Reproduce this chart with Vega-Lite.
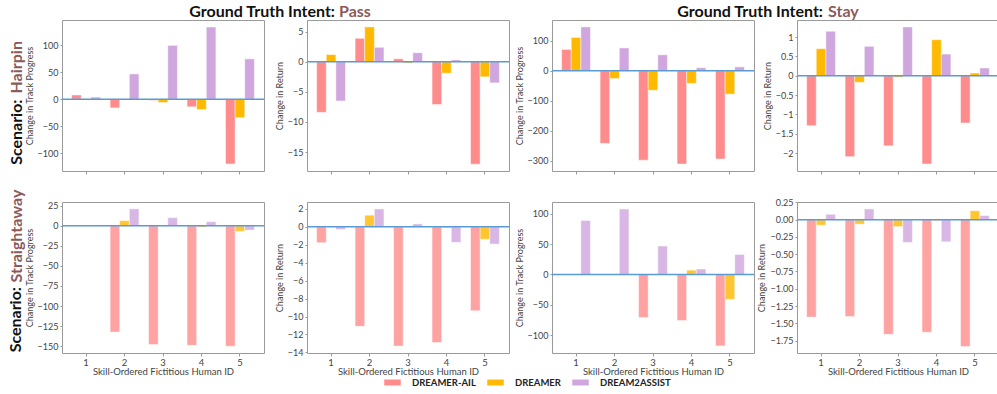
{
"$schema": "https://vega.github.io/schema/vega-lite/v6.json",
"padding": {"left": 7, "top": 3, "right": 0, "bottom": 0},
"background": "white",
"datasets": {"d": [
{"scenario":"Hairpin","intent":"Pass","metric":"Track","id":1,"method":"Dreamer-AIL","value":8},
{"scenario":"Hairpin","intent":"Pass","metric":"Track","id":1,"method":"Dreamer","value":1},
{"scenario":"Hairpin","intent":"Pass","metric":"Track","id":1,"method":"Dream2Assist","value":4},
{"scenario":"Hairpin","intent":"Pass","metric":"Track","id":2,"method":"Dreamer-AIL","value":-16},
{"scenario":"Hairpin","intent":"Pass","metric":"Track","id":2,"method":"Dreamer","value":0},
{"scenario":"Hairpin","intent":"Pass","metric":"Track","id":2,"method":"Dream2Assist","value":47},
{"scenario":"Hairpin","intent":"Pass","metric":"Track","id":3,"method":"Dreamer-AIL","value":-2},
{"scenario":"Hairpin","intent":"Pass","metric":"Track","id":3,"method":"Dreamer","value":-6},
{"scenario":"Hairpin","intent":"Pass","metric":"Track","id":3,"method":"Dream2Assist","value":100},
{"scenario":"Hairpin","intent":"Pass","metric":"Track","id":4,"method":"Dreamer-AIL","value":-14},
{"scenario":"Hairpin","intent":"Pass","metric":"Track","id":4,"method":"Dreamer","value":-19},
{"scenario":"Hairpin","intent":"Pass","metric":"Track","id":4,"method":"Dream2Assist","value":134},
{"scenario":"Hairpin","intent":"Pass","metric":"Track","id":5,"method":"Dreamer-AIL","value":-120},
{"scenario":"Hairpin","intent":"Pass","metric":"Track","id":5,"method":"Dreamer","value":-34},
{"scenario":"Hairpin","intent":"Pass","metric":"Track","id":5,"method":"Dream2Assist","value":75},
{"scenario":"Hairpin","intent":"Pass","metric":"Return","id":1,"method":"Dreamer-AIL","value":-8.4},
{"scenario":"Hairpin","intent":"Pass","metric":"Return","id":1,"method":"Dreamer","value":1.2},
{"scenario":"Hairpin","intent":"Pass","metric":"Return","id":1,"method":"Dream2Assist","value":-6.5},
{"scenario":"Hairpin","intent":"Pass","metric":"Return","id":2,"method":"Dreamer-AIL","value":3.9},
{"scenario":"Hairpin","intent":"Pass","metric":"Return","id":2,"method":"Dreamer","value":5.8},
{"scenario":"Hairpin","intent":"Pass","metric":"Return","id":2,"method":"Dream2Assist","value":2.4},
{"scenario":"Hairpin","intent":"Pass","metric":"Return","id":3,"method":"Dreamer-AIL","value":0.5},
{"scenario":"Hairpin","intent":"Pass","metric":"Return","id":3,"method":"Dreamer","value":-0.2},
{"scenario":"Hairpin","intent":"Pass","metric":"Return","id":3,"method":"Dream2Assist","value":1.5},
{"scenario":"Hairpin","intent":"Pass","metric":"Return","id":4,"method":"Dreamer-AIL","value":-7.1},
{"scenario":"Hairpin","intent":"Pass","metric":"Return","id":4,"method":"Dreamer","value":-1.9},
{"scenario":"Hairpin","intent":"Pass","metric":"Return","id":4,"method":"Dream2Assist","value":0.3},
{"scenario":"Hairpin","intent":"Pass","metric":"Return","id":5,"method":"Dreamer-AIL","value":-17.0},
{"scenario":"Hairpin","intent":"Pass","metric":"Return","id":5,"method":"Dreamer","value":-2.5},
{"scenario":"Hairpin","intent":"Pass","metric":"Return","id":5,"method":"Dream2Assist","value":-3.5},
{"scenario":"Hairpin","intent":"Stay","metric":"Track","id":1,"method":"Dreamer-AIL","value":71},
{"scenario":"Hairpin","intent":"Stay","metric":"Track","id":1,"method":"Dreamer","value":111},
{"scenario":"Hairpin","intent":"Stay","metric":"Track","id":1,"method":"Dream2Assist","value":146},
{"scenario":"Hairpin","intent":"Stay","metric":"Track","id":2,"method":"Dreamer-AIL","value":-242},
{"scenario":"Hairpin","intent":"Stay","metric":"Track","id":2,"method":"Dreamer","value":-26},
{"scenario":"Hairpin","intent":"Stay","metric":"Track","id":2,"method":"Dream2Assist","value":76},
{"scenario":"Hairpin","intent":"Stay","metric":"Track","id":3,"method":"Dreamer-AIL","value":-298},
{"scenario":"Hairpin","intent":"Stay","metric":"Track","id":3,"method":"Dreamer","value":-65},
{"scenario":"Hairpin","intent":"Stay","metric":"Track","id":3,"method":"Dream2Assist","value":53},
{"scenario":"Hairpin","intent":"Stay","metric":"Track","id":4,"method":"Dreamer-AIL","value":-311},
{"scenario":"Hairpin","intent":"Stay","metric":"Track","id":4,"method":"Dreamer","value":-42},
{"scenario":"Hairpin","intent":"Stay","metric":"Track","id":4,"method":"Dream2Assist","value":10},
{"scenario":"Hairpin","intent":"Stay","metric":"Track","id":5,"method":"Dreamer-AIL","value":-294},
{"scenario":"Hairpin","intent":"Stay","metric":"Track","id":5,"method":"Dreamer","value":-78},
{"scenario":"Hairpin","intent":"Stay","metric":"Track","id":5,"method":"Dream2Assist","value":13},
{"scenario":"Hairpin","intent":"Stay","metric":"Return","id":1,"method":"Dreamer-AIL","value":-1.29},
{"scenario":"Hairpin","intent":"Stay","metric":"Return","id":1,"method":"Dreamer","value":0.70},
{"scenario":"Hairpin","intent":"Stay","metric":"Return","id":1,"method":"Dream2Assist","value":1.15},
{"scenario":"Hairpin","intent":"Stay","metric":"Return","id":2,"method":"Dreamer-AIL","value":-2.09},
{"scenario":"Hairpin","intent":"Stay","metric":"Return","id":2,"method":"Dreamer","value":-0.17},
{"scenario":"Hairpin","intent":"Stay","metric":"Return","id":2,"method":"Dream2Assist","value":0.76},
{"scenario":"Hairpin","intent":"Stay","metric":"Return","id":3,"method":"Dreamer-AIL","value":-1.81},
{"scenario":"Hairpin","intent":"Stay","metric":"Return","id":3,"method":"Dreamer","value":-0.04},
{"scenario":"Hairpin","intent":"Stay","metric":"Return","id":3,"method":"Dream2Assist","value":1.26},
{"scenario":"Hairpin","intent":"Stay","metric":"Return","id":4,"method":"Dreamer-AIL","value":-2.28},
{"scenario":"Hairpin","intent":"Stay","metric":"Return","id":4,"method":"Dreamer","value":0.93},
{"scenario":"Hairpin","intent":"Stay","metric":"Return","id":4,"method":"Dream2Assist","value":0.56},
{"scenario":"Hairpin","intent":"Stay","metric":"Return","id":5,"method":"Dreamer-AIL","value":-1.22},
{"scenario":"Hairpin","intent":"Stay","metric":"Return","id":5,"method":"Dreamer","value":0.07},
{"scenario":"Hairpin","intent":"Stay","metric":"Return","id":5,"method":"Dream2Assist","value":0.20},
{"scenario":"Straightaway","intent":"Pass","metric":"Track","id":1,"method":"Dreamer-AIL","value":0},
{"scenario":"Straightaway","intent":"Pass","metric":"Track","id":1,"method":"Dreamer","value":0},
{"scenario":"Straightaway","intent":"Pass","metric":"Track","id":1,"method":"Dream2Assist","value":0},
{"scenario":"Straightaway","intent":"Pass","metric":"Track","id":2,"method":"Dreamer-AIL","value":-132.5},
{"scenario":"Straightaway","intent":"Pass","metric":"Track","id":2,"method":"Dreamer","value":6.3},
{"scenario":"Straightaway","intent":"Pass","metric":"Track","id":2,"method":"Dream2Assist","value":21},
{"scenario":"Straightaway","intent":"Pass","metric":"Track","id":3,"method":"Dreamer-AIL","value":-148},
{"scenario":"Straightaway","intent":"Pass","metric":"Track","id":3,"method":"Dreamer","value":0},
{"scenario":"Straightaway","intent":"Pass","metric":"Track","id":3,"method":"Dream2Assist","value":10},
{"scenario":"Straightaway","intent":"Pass","metric":"Track","id":4,"method":"Dreamer-AIL","value":-149},
{"scenario":"Straightaway","intent":"Pass","metric":"Track","id":4,"method":"Dreamer","value":-1.7},
{"scenario":"Straightaway","intent":"Pass","metric":"Track","id":4,"method":"Dream2Assist","value":5},
{"scenario":"Straightaway","intent":"Pass","metric":"Track","id":5,"method":"Dreamer-AIL","value":-150},
{"scenario":"Straightaway","intent":"Pass","metric":"Track","id":5,"method":"Dreamer","value":-7},
{"scenario":"Straightaway","intent":"Pass","metric":"Track","id":5,"method":"Dream2Assist","value":-5.5},
{"scenario":"Straightaway","intent":"Pass","metric":"Return","id":1,"method":"Dreamer-AIL","value":-1.77},
{"scenario":"Straightaway","intent":"Pass","metric":"Return","id":1,"method":"Dreamer","value":0},
{"scenario":"Straightaway","intent":"Pass","metric":"Return","id":1,"method":"Dream2Assist","value":-0.3},
{"scenario":"Straightaway","intent":"Pass","metric":"Return","id":2,"method":"Dreamer-AIL","value":-11.1},
{"scenario":"Straightaway","intent":"Pass","metric":"Return","id":2,"method":"Dreamer","value":1.3},
{"scenario":"Straightaway","intent":"Pass","metric":"Return","id":2,"method":"Dream2Assist","value":2.0},
{"scenario":"Straightaway","intent":"Pass","metric":"Return","id":3,"method":"Dreamer-AIL","value":-13.3},
{"scenario":"Straightaway","intent":"Pass","metric":"Return","id":3,"method":"Dreamer","value":-0.05},
{"scenario":"Straightaway","intent":"Pass","metric":"Return","id":3,"method":"Dream2Assist","value":0.33},
{"scenario":"Straightaway","intent":"Pass","metric":"Return","id":4,"method":"Dreamer-AIL","value":-12.9},
{"scenario":"Straightaway","intent":"Pass","metric":"Return","id":4,"method":"Dreamer","value":-0.1},
{"scenario":"Straightaway","intent":"Pass","metric":"Return","id":4,"method":"Dream2Assist","value":-1.73},
{"scenario":"Straightaway","intent":"Pass","metric":"Return","id":5,"method":"Dreamer-AIL","value":-9.36},
{"scenario":"Straightaway","intent":"Pass","metric":"Return","id":5,"method":"Dreamer","value":-1.39},
{"scenario":"Straightaway","intent":"Pass","metric":"Return","id":5,"method":"Dream2Assist","value":-1.92},
{"scenario":"Straightaway","intent":"Stay","metric":"Track","id":1,"method":"Dreamer-AIL","value":0},
{"scenario":"Straightaway","intent":"Stay","metric":"Track","id":1,"method":"Dreamer","value":0},
{"scenario":"Straightaway","intent":"Stay","metric":"Track","id":1,"method":"Dream2Assist","value":89},
{"scenario":"Straightaway","intent":"Stay","metric":"Track","id":2,"method":"Dreamer-AIL","value":0},
{"scenario":"Straightaway","intent":"Stay","metric":"Track","id":2,"method":"Dreamer","value":0},
{"scenario":"Straightaway","intent":"Stay","metric":"Track","id":2,"method":"Dream2Assist","value":108},
{"scenario":"Straightaway","intent":"Stay","metric":"Track","id":3,"method":"Dreamer-AIL","value":-71},
{"scenario":"Straightaway","intent":"Stay","metric":"Track","id":3,"method":"Dreamer","value":0},
{"scenario":"Straightaway","intent":"Stay","metric":"Track","id":3,"method":"Dream2Assist","value":47},
{"scenario":"Straightaway","intent":"Stay","metric":"Track","id":4,"method":"Dreamer-AIL","value":-76},
{"scenario":"Straightaway","intent":"Stay","metric":"Track","id":4,"method":"Dreamer","value":7.2},
{"scenario":"Straightaway","intent":"Stay","metric":"Track","id":4,"method":"Dream2Assist","value":9},
{"scenario":"Straightaway","intent":"Stay","metric":"Track","id":5,"method":"Dreamer-AIL","value":-118},
{"scenario":"Straightaway","intent":"Stay","metric":"Track","id":5,"method":"Dreamer","value":-41},
{"scenario":"Straightaway","intent":"Stay","metric":"Track","id":5,"method":"Dream2Assist","value":33},
{"scenario":"Straightaway","intent":"Stay","metric":"Return","id":1,"method":"Dreamer-AIL","value":-1.41},
{"scenario":"Straightaway","intent":"Stay","metric":"Return","id":1,"method":"Dreamer","value":-0.08},
{"scenario":"Straightaway","intent":"Stay","metric":"Return","id":1,"method":"Dream2Assist","value":0.078},
{"scenario":"Straightaway","intent":"Stay","metric":"Return","id":2,"method":"Dreamer-AIL","value":-1.40},
{"scenario":"Straightaway","intent":"Stay","metric":"Return","id":2,"method":"Dreamer","value":-0.065},
{"scenario":"Straightaway","intent":"Stay","metric":"Return","id":2,"method":"Dream2Assist","value":0.156},
{"scenario":"Straightaway","intent":"Stay","metric":"Return","id":3,"method":"Dreamer-AIL","value":-1.66},
{"scenario":"Straightaway","intent":"Stay","metric":"Return","id":3,"method":"Dreamer","value":-0.10},
{"scenario":"Straightaway","intent":"Stay","metric":"Return","id":3,"method":"Dream2Assist","value":-0.33},
{"scenario":"Straightaway","intent":"Stay","metric":"Return","id":4,"method":"Dreamer-AIL","value":-1.63},
{"scenario":"Straightaway","intent":"Stay","metric":"Return","id":4,"method":"Dreamer","value":-0.015},
{"scenario":"Straightaway","intent":"Stay","metric":"Return","id":4,"method":"Dream2Assist","value":-0.32},
{"scenario":"Straightaway","intent":"Stay","metric":"Return","id":5,"method":"Dreamer-AIL","value":-1.835},
{"scenario":"Straightaway","intent":"Stay","metric":"Return","id":5,"method":"Dreamer","value":0.13},
{"scenario":"Straightaway","intent":"Stay","metric":"Return","id":5,"method":"Dream2Assist","value":0.06}
]},
"data": {"name": "d"},
"spacing": 13,
"vconcat": [
{
 "hconcat": [
  {"width":202,"height":151,
   "title":{"text":"Ground Truth Intent:","anchor":"end","frame":"group","dx":71,"offset":0,"fontSize":16,"fontWeight":"bold","font":"Lato","color":"#111"},
   "layer":[
    {"transform":[{"filter":"datum.scenario == 'Hairpin' && datum.intent == 'Pass' && datum.metric == 'Track'"}],
     "mark":{"type":"bar","stroke":"white","strokeWidth":0.8,"strokeOpacity":0.6},
     "encoding":{
      "x":{"field":"id","type":"ordinal","scale":{"paddingInner":0.25,"paddingOuter":0.25},"axis":{"labels":false,"bandPosition":0.5,"title":"Scenario:","titleAngle":-90,"titleX":-38,"titleY":-72,"titleAlign":"right","titleBaseline":"bottom","titleFont":"Lato","titleFontSize":16,"titleFontWeight":"bold","titleColor":"#111"}},
      "xOffset":{"field":"method","type":"nominal","scale":{"domain":["Dreamer-AIL","Dreamer","Dream2Assist"],"paddingInner":0,"paddingOuter":0}},
      "y":{"field":"value","type":"quantitative","scale":{"domain":[-133,147],"nice":false},"axis":{"values":[-100,-50,0,50,100],"title":"Change in Track Progress"}},
      "color":{"field":"method","type":"nominal","title":null,"scale":{"domain":["Dreamer-AIL","Dreamer","Dream2Assist"],"range":["#FF8C8C","#FFB900","#CFA6DE"]},"legend":{"labelExpr":"upper(datum.label)"}}}},
    {"data":{"values":[{}]},"mark":{"type":"rule","color":"#5B9BD5","strokeWidth":1.5},
     "encoding":{"y":{"datum":0,"type":"quantitative","scale":{"domain":[-133,147],"nice":false},"axis":{"orient":"left","offset":0,"labels":false,"ticks":false,"domain":false,"title":"Hairpin","titleColor":"#8C5A5A","titleFont":"Lato","titleFontSize":16,"titleFontWeight":"bold","titleAngle":-90,"titleAlign":"left","titleBaseline":"bottom","titleX":-38,"titleY":73}}}}
   ],
   "resolve":{"scale":{"y":"independent"}}},
  {"width":202,"height":151,
   "title":{"text":"Pass","anchor":"start","frame":"group","dx":32,"offset":0,"fontSize":16,"fontWeight":"bold","font":"Lato","color":"#8C5A5A"},
   "layer":[
    {"transform":[{"filter":"datum.scenario == 'Hairpin' && datum.intent == 'Pass' && datum.metric == 'Return'"}],
     "mark":{"type":"bar","stroke":"white","strokeWidth":0.8,"strokeOpacity":0.6},
     "encoding":{
      "x":{"field":"id","type":"ordinal","scale":{"paddingInner":0.25,"paddingOuter":0.25},"axis":{"labels":false,"title":null,"bandPosition":0.5}},
      "xOffset":{"field":"method","type":"nominal","scale":{"domain":["Dreamer-AIL","Dreamer","Dream2Assist"],"paddingInner":0,"paddingOuter":0}},
      "y":{"field":"value","type":"quantitative","scale":{"domain":[-18.14,6.94],"nice":false},"axis":{"values":[-15,-10,-5,0,5],"title":"Change in Return"}},
      "color":{"field":"method","type":"nominal","title":null,"scale":{"domain":["Dreamer-AIL","Dreamer","Dream2Assist"],"range":["#FF8C8C","#FFB900","#CFA6DE"]},"legend":{"labelExpr":"upper(datum.label)"}}}},
    {"data":{"values":[{}]},"mark":{"type":"rule","color":"#5B9BD5","strokeWidth":1.5},
     "encoding":{"y":{"datum":0,"type":"quantitative","scale":{"domain":[-18.14,6.94],"nice":false},"axis":null}}}
   ],
   "resolve":{"scale":{"y":"independent"}}},
  {"width":202,"height":151,
   "title":{"text":"Ground Truth Intent:","anchor":"end","frame":"group","dx":69,"offset":0,"fontSize":16,"fontWeight":"bold","font":"Lato","color":"#111"},
   "layer":[
    {"transform":[{"filter":"datum.scenario == 'Hairpin' && datum.intent == 'Stay' && datum.metric == 'Track'"}],
     "mark":{"type":"bar","stroke":"white","strokeWidth":0.8,"strokeOpacity":0.6},
     "encoding":{
      "x":{"field":"id","type":"ordinal","scale":{"paddingInner":0.25,"paddingOuter":0.25},"axis":{"labels":false,"title":null,"bandPosition":0.5}},
      "xOffset":{"field":"method","type":"nominal","scale":{"domain":["Dreamer-AIL","Dreamer","Dream2Assist"],"paddingInner":0,"paddingOuter":0}},
      "y":{"field":"value","type":"quantitative","scale":{"domain":[-334,169],"nice":false},"axis":{"values":[-300,-200,-100,0,100],"title":"Change in Track Progress"}},
      "color":{"field":"method","type":"nominal","title":null,"scale":{"domain":["Dreamer-AIL","Dreamer","Dream2Assist"],"range":["#FF8C8C","#FFB900","#CFA6DE"]},"legend":{"labelExpr":"upper(datum.label)"}}}},
    {"data":{"values":[{}]},"mark":{"type":"rule","color":"#5B9BD5","strokeWidth":1.5},
     "encoding":{"y":{"datum":0,"type":"quantitative","scale":{"domain":[-334,169],"nice":false},"axis":null}}}
   ],
   "resolve":{"scale":{"y":"independent"}}},
  {"width":202,"height":151,
   "title":{"text":"Stay","anchor":"start","frame":"group","dx":31,"offset":0,"fontSize":16,"fontWeight":"bold","font":"Lato","color":"#8C5A5A"},
   "layer":[
    {"transform":[{"filter":"datum.scenario == 'Hairpin' && datum.intent == 'Stay' && datum.metric == 'Return'"}],
     "mark":{"type":"bar","stroke":"white","strokeWidth":0.8,"strokeOpacity":0.6},
     "encoding":{
      "x":{"field":"id","type":"ordinal","scale":{"paddingInner":0.25,"paddingOuter":0.25},"axis":{"labels":false,"title":null,"bandPosition":0.5}},
      "xOffset":{"field":"method","type":"nominal","scale":{"domain":["Dreamer-AIL","Dreamer","Dream2Assist"],"paddingInner":0,"paddingOuter":0}},
      "y":{"field":"value","type":"quantitative","scale":{"domain":[-2.46,1.44],"nice":false},"axis":{"values":[-2,-1.5,-1,-0.5,0,0.5,1],"format":"~g","title":"Change in Return"}},
      "color":{"field":"method","type":"nominal","title":null,"scale":{"domain":["Dreamer-AIL","Dreamer","Dream2Assist"],"range":["#FF8C8C","#FFB900","#CFA6DE"]},"legend":{"labelExpr":"upper(datum.label)"}}}},
    {"data":{"values":[{}]},"mark":{"type":"rule","color":"#5B9BD5","strokeWidth":1.5},
     "encoding":{"y":{"datum":0,"type":"quantitative","scale":{"domain":[-2.46,1.44],"nice":false},"axis":null}}}
   ],
   "resolve":{"scale":{"y":"independent"}}}
 ],
 "spacing": 43,
 "bounds": "flush"
},
{
 "hconcat": [
  {"width":202,"height":151,
   "title":{"text":"Scenario:","orient":"left","anchor":"middle","align":"right","frame":"group","offset":-16,"dx":-9.5,"fontSize":16,"fontWeight":"bold","font":"Lato","color":"#111"},
   "layer":[
    {"transform":[{"filter":"datum.scenario == 'Straightaway' && datum.intent == 'Pass' && datum.metric == 'Track'"}],
     "mark":{"type":"bar","stroke":"white","strokeWidth":0.8,"strokeOpacity":0.6,"opacity":0.8},
     "encoding":{
      "x":{"field":"id","type":"ordinal","scale":{"paddingInner":0.25,"paddingOuter":0.25},"axis":{"title":"Skill-Ordered Fictitious Human ID","labelAngle":0,"bandPosition":0.5}},
      "xOffset":{"field":"method","type":"nominal","scale":{"domain":["Dreamer-AIL","Dreamer","Dream2Assist"],"paddingInner":0,"paddingOuter":0}},
      "y":{"field":"value","type":"quantitative","scale":{"domain":[-158.5,29.5],"nice":false},"axis":{"values":[-150,-125,-100,-75,-50,-25,0,25],"title":"Change in Track Progress"}},
      "color":{"field":"method","type":"nominal","title":null,"scale":{"domain":["Dreamer-AIL","Dreamer","Dream2Assist"],"range":["#FF8C8C","#FFB900","#CFA6DE"]},"legend":{"labelExpr":"upper(datum.label)"}}}},
    {"data":{"values":[{}]},"mark":{"type":"rule","color":"#5B9BD5","strokeWidth":1.5},
     "encoding":{"y":{"datum":0,"type":"quantitative","scale":{"domain":[-158.5,29.5],"nice":false},"axis":{"orient":"left","offset":0,"labels":false,"ticks":false,"domain":false,"title":"Straightaway","titleColor":"#8C5A5A","titleFont":"Lato","titleFontSize":16,"titleFontWeight":"bold","titleAngle":-90,"titleAlign":"left","titleBaseline":"bottom","titleX":-38,"titleY":80}}}}
   ],
   "resolve":{"scale":{"y":"independent"}}},
  {"width":202,"height":151,
   "layer":[
    {"transform":[{"filter":"datum.scenario == 'Straightaway' && datum.intent == 'Pass' && datum.metric == 'Return'"}],
     "mark":{"type":"bar","stroke":"white","strokeWidth":0.8,"strokeOpacity":0.6,"opacity":0.8},
     "encoding":{
      "x":{"field":"id","type":"ordinal","scale":{"paddingInner":0.25,"paddingOuter":0.25},"axis":{"title":"Skill-Ordered Fictitious Human ID","labelAngle":0,"bandPosition":0.5}},
      "xOffset":{"field":"method","type":"nominal","scale":{"domain":["Dreamer-AIL","Dreamer","Dream2Assist"],"paddingInner":0,"paddingOuter":0}},
      "y":{"field":"value","type":"quantitative","scale":{"domain":[-14.07,2.77],"nice":false},"axis":{"values":[-14,-12,-10,-8,-6,-4,-2,0,2],"title":"Change in Return"}},
      "color":{"field":"method","type":"nominal","title":null,"scale":{"domain":["Dreamer-AIL","Dreamer","Dream2Assist"],"range":["#FF8C8C","#FFB900","#CFA6DE"]},"legend":{"labelExpr":"upper(datum.label)"}}}},
    {"data":{"values":[{}]},"mark":{"type":"rule","color":"#5B9BD5","strokeWidth":1.5},
     "encoding":{"y":{"datum":0,"type":"quantitative","scale":{"domain":[-14.07,2.77],"nice":false},"axis":null}}}
   ],
   "resolve":{"scale":{"y":"independent"}}},
  {"width":202,"height":151,
   "layer":[
    {"transform":[{"filter":"datum.scenario == 'Straightaway' && datum.intent == 'Stay' && datum.metric == 'Track'"}],
     "mark":{"type":"bar","stroke":"white","strokeWidth":0.8,"strokeOpacity":0.6,"opacity":0.8},
     "encoding":{
      "x":{"field":"id","type":"ordinal","scale":{"paddingInner":0.25,"paddingOuter":0.25},"axis":{"title":"Skill-Ordered Fictitious Human ID","labelAngle":0,"bandPosition":0.5}},
      "xOffset":{"field":"method","type":"nominal","scale":{"domain":["Dreamer-AIL","Dreamer","Dream2Assist"],"paddingInner":0,"paddingOuter":0}},
      "y":{"field":"value","type":"quantitative","scale":{"domain":[-129.6,119.6],"nice":false},"axis":{"values":[-100,-50,0,50,100],"title":"Change in Track Progress"}},
      "color":{"field":"method","type":"nominal","title":null,"scale":{"domain":["Dreamer-AIL","Dreamer","Dream2Assist"],"range":["#FF8C8C","#FFB900","#CFA6DE"]},"legend":{"labelExpr":"upper(datum.label)"}}}},
    {"data":{"values":[{}]},"mark":{"type":"rule","color":"#5B9BD5","strokeWidth":1.5},
     "encoding":{"y":{"datum":0,"type":"quantitative","scale":{"domain":[-129.6,119.6],"nice":false},"axis":null}}}
   ],
   "resolve":{"scale":{"y":"independent"}}},
  {"width":202,"height":151,
   "layer":[
    {"transform":[{"filter":"datum.scenario == 'Straightaway' && datum.intent == 'Stay' && datum.metric == 'Return'"}],
     "mark":{"type":"bar","stroke":"white","strokeWidth":0.8,"strokeOpacity":0.6,"opacity":0.8},
     "encoding":{
      "x":{"field":"id","type":"ordinal","scale":{"paddingInner":0.25,"paddingOuter":0.25},"axis":{"title":"Skill-Ordered Fictitious Human ID","labelAngle":0,"bandPosition":0.5}},
      "xOffset":{"field":"method","type":"nominal","scale":{"domain":["Dreamer-AIL","Dreamer","Dream2Assist"],"paddingInner":0,"paddingOuter":0}},
      "y":{"field":"value","type":"quantitative","scale":{"domain":[-1.93,0.256],"nice":false},"axis":{"values":[-1.75,-1.5,-1.25,-1,-0.75,-0.5,-0.25,0,0.25],"format":".2f","title":"Change in Return"}},
      "color":{"field":"method","type":"nominal","title":null,"scale":{"domain":["Dreamer-AIL","Dreamer","Dream2Assist"],"range":["#FF8C8C","#FFB900","#CFA6DE"]},"legend":{"labelExpr":"upper(datum.label)"}}}},
    {"data":{"values":[{}]},"mark":{"type":"rule","color":"#5B9BD5","strokeWidth":1.5},
     "encoding":{"y":{"datum":0,"type":"quantitative","scale":{"domain":[-1.93,0.256],"nice":false},"axis":null}}}
   ],
   "resolve":{"scale":{"y":"independent"}}}
 ],
 "spacing": 43,
 "bounds": "flush"
}
],
"config": {
 "view": {"stroke": "#9a9a9a", "strokeWidth": 1},
 "axis": {"grid": false, "domain": false, "labelOverlap": false, "labelFont": "Lato", "labelFontSize": 9, "labelColor": "#444", "titleFont": "Lato", "titleFontSize": 9, "titleFontWeight": "normal", "titleColor": "#444", "tickColor": "#999", "tickSize": 4, "labelPadding": 2, "titlePadding": 3},
 "axisY": {"tickSize": 2},
 "axisX": {"labelFontSize": 9.5, "titleFontSize": 9.5, "labelPadding": 1, "titlePadding": 0, "tickSize": 3},
 "legend": {"orient": "none", "legendX": 314, "legendY": 346, "direction": "horizontal", "symbolType": "M-0.5,-0.18H0.5V0.18H-0.5Z", "symbolSize": 1089, "symbolStrokeWidth": 0, "symbolOpacity": 1, "labelFont": "Lato", "labelFontSize": 9.5, "labelFontWeight": "bold", "labelColor": "#222", "labelOffset": 3, "columnPadding": 3, "padding": 0}
}
}
